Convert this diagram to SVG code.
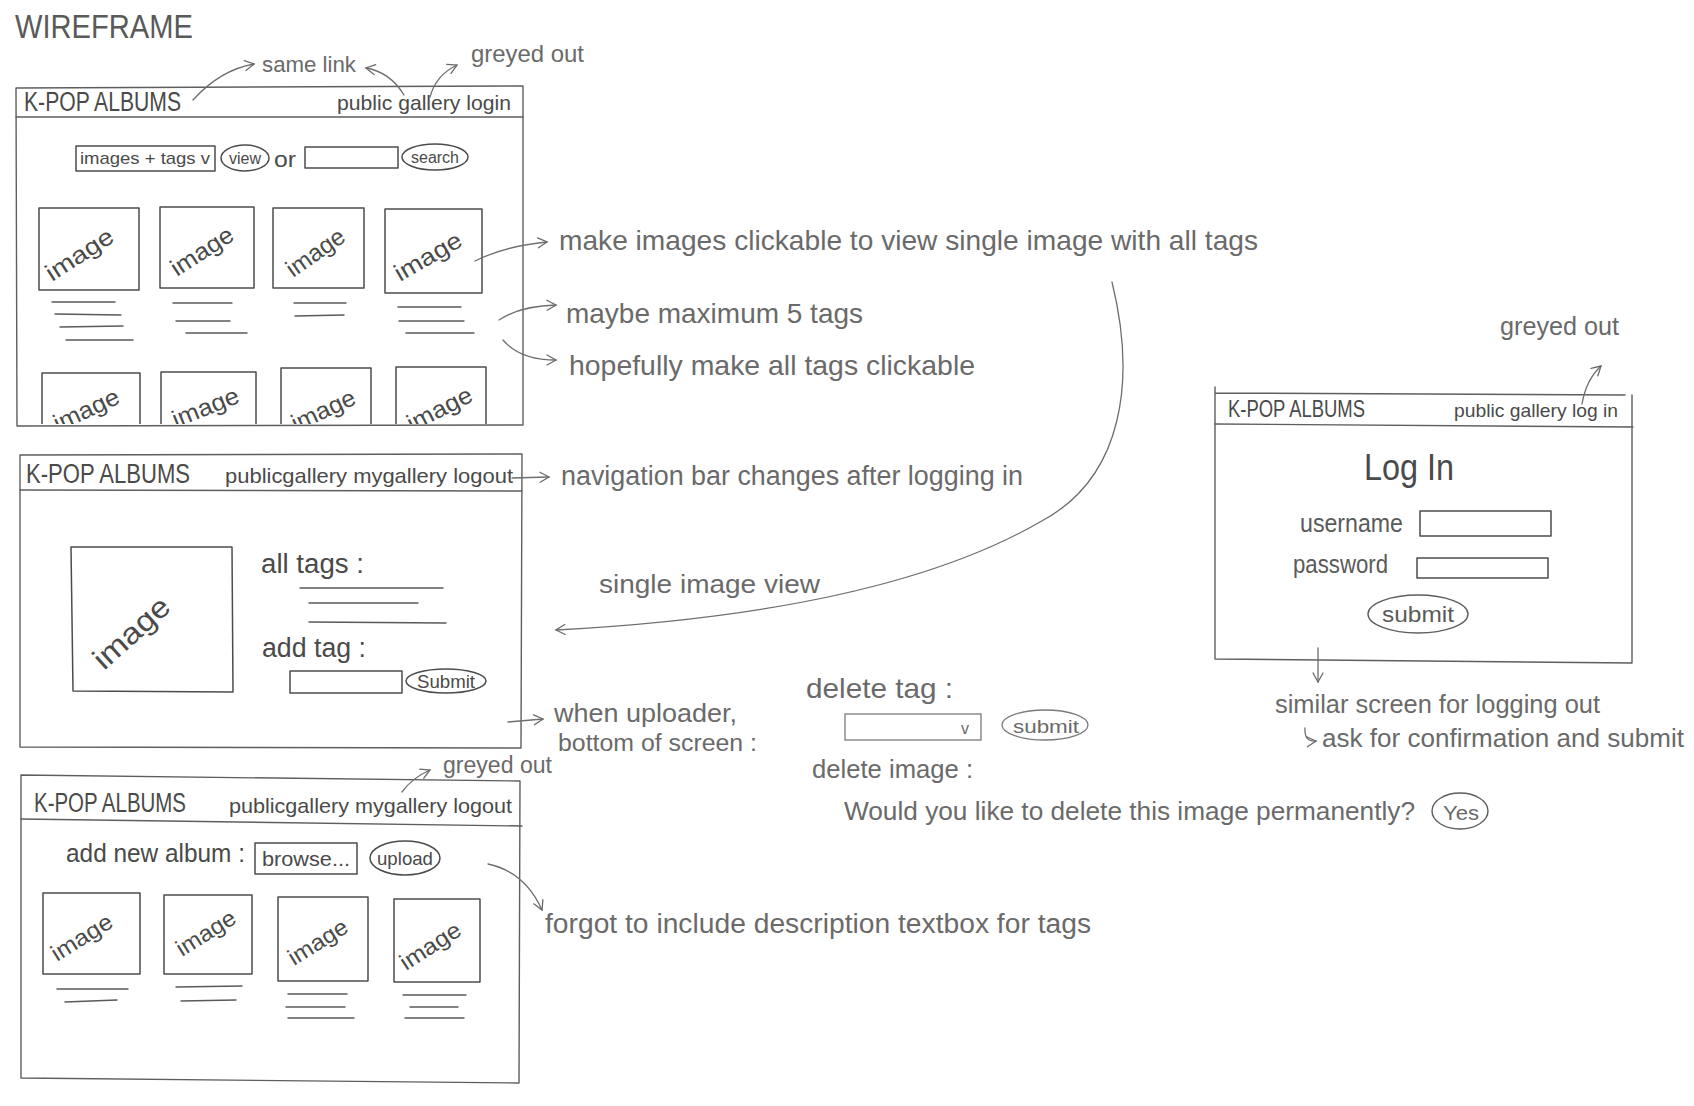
<svg xmlns="http://www.w3.org/2000/svg" width="1694" height="1106" viewBox="0 0 1694 1106">
<defs>
<style>
.bg{fill:#ffffff}
.fr{fill:none;stroke:#5e5e5e;stroke-width:1.4;stroke-linejoin:round;stroke-linecap:round}
.bx{fill:none;stroke:#4c4c4c;stroke-width:1.5;stroke-linejoin:round}
.ln{fill:none;stroke:#5a5a5a;stroke-width:1.4;stroke-linecap:round}
.lt{fill:none;stroke:#7a7a7a;stroke-width:1.3;stroke-linecap:round}
.cn{fill:none;stroke:#6e6e6e;stroke-width:1.3;stroke-linecap:round}
.t{font-family:"Liberation Sans Narrow","Liberation Sans",Arial,sans-serif;fill:#5a5a5a}
.d{fill:#4a4a4a}
.a{fill:#6a6a6a}
</style>
<marker id="ah" viewBox="0 0 12 12" refX="10" refY="6" markerWidth="12" markerHeight="12" markerUnits="userSpaceOnUse" orient="auto">
<path d="M1,1 L10,6 L1,11" fill="none" stroke="#6a6a6a" stroke-width="1.3" stroke-linecap="round"/>
</marker>
<clipPath id="c1"><rect x="0" y="360" width="530" height="64"/></clipPath>
</defs>
<rect class="bg" x="0" y="0" width="1694" height="1106"/>

<text class="t" x="15" y="38" font-size="34" textLength="178" lengthAdjust="spacingAndGlyphs">WIREFRAME</text>

<!-- Screen 1: public gallery -->
<g id="screen-public-gallery">
<path class="fr" d="M16,88 L523,86 L523,425 L17,426 Z"/>
<path class="fr" d="M16,117 L523,117"/>
<text class="t d" x="24" y="111" font-size="27" textLength="157" lengthAdjust="spacingAndGlyphs">K-POP ALBUMS</text>
<text class="t d" x="337" y="110" font-size="21" textLength="174" lengthAdjust="spacingAndGlyphs">public gallery login</text>
<rect class="bx" x="76" y="146" width="139" height="25"/>
<text class="t d" x="80" y="164" font-size="17" textLength="130" lengthAdjust="spacingAndGlyphs">images + tags v</text>
<ellipse class="bx" cx="245" cy="158" rx="24" ry="13"/>
<text class="t d" x="229" y="164" font-size="16" textLength="32" lengthAdjust="spacingAndGlyphs">view</text>
<text class="t d" x="274" y="167" font-size="22" textLength="22" lengthAdjust="spacingAndGlyphs">or</text>
<rect class="bx" x="305" y="147" width="93" height="21"/>
<ellipse class="bx" cx="435" cy="157" rx="33" ry="13"/>
<text class="t d" x="411" y="163" font-size="16" textLength="48" lengthAdjust="spacingAndGlyphs">search</text>
<rect class="bx" x="39" y="208" width="100" height="82"/>
<rect class="bx" x="160" y="207" width="94" height="81"/>
<rect class="bx" x="273" y="208" width="91" height="80"/>
<rect class="bx" x="385" y="209" width="97" height="84"/>
<text class="t d" font-size="24" transform="translate(52,282) rotate(-33)" textLength="76" lengthAdjust="spacingAndGlyphs">image</text>
<text class="t d" font-size="24" transform="translate(177,277) rotate(-33)" textLength="70" lengthAdjust="spacingAndGlyphs">image</text>
<text class="t d" font-size="24" transform="translate(293,278) rotate(-35)" textLength="66" lengthAdjust="spacingAndGlyphs">image</text>
<text class="t d" font-size="24" transform="translate(400,282) rotate(-30)" textLength="74" lengthAdjust="spacingAndGlyphs">image</text>
<path class="ln" d="M52,302 L115,302 M55,314 L121,315 M60,327 L123,326 M66,340 L133,340"/>
<path class="ln" d="M173,303 L232,303 M176,321 L230,321 M186,333 L247,333"/>
<path class="ln" d="M294,303 L346,303 M295,316 L344,315"/>
<path class="ln" d="M398,307 L461,307 M399,321 L464,321 M406,333 L474,333"/>
<path class="bx" d="M42,424 L42,373 L140,373 L140,424 M161,424 L161,372 L256,372 L256,424 M281,424 L281,368 L371,368 L371,424 M396,424 L396,367 L486,367 L486,424"/>
<g clip-path="url(#c1)">
<text class="t d" font-size="24" transform="translate(58,432) rotate(-25)" textLength="70" lengthAdjust="spacingAndGlyphs">image</text>
<text class="t d" font-size="24" transform="translate(176,428) rotate(-22)" textLength="70" lengthAdjust="spacingAndGlyphs">image</text>
<text class="t d" font-size="24" transform="translate(296,432) rotate(-25)" textLength="68" lengthAdjust="spacingAndGlyphs">image</text>
<text class="t d" font-size="24" transform="translate(412,432) rotate(-27)" textLength="70" lengthAdjust="spacingAndGlyphs">image</text>
</g>
</g>

<!-- Screen 2: single image view -->
<g id="screen-single-image">
<path class="fr" d="M20,455 L522,454 L521,748 L20,747 Z"/>
<path class="fr" d="M20,490 L522,491"/>
<text class="t d" x="26" y="483" font-size="27" textLength="164" lengthAdjust="spacingAndGlyphs">K-POP ALBUMS</text>
<text class="t d" x="225" y="483" font-size="21" textLength="288" lengthAdjust="spacingAndGlyphs">publicgallery mygallery logout</text>
<path class="bx" d="M71,547 L232,547 L233,692 L73,691 Z"/>
<text class="t d" font-size="30" transform="translate(104,671) rotate(-42)" textLength="92" lengthAdjust="spacingAndGlyphs">image</text>
<text class="t d" x="261" y="573" font-size="27" textLength="103" lengthAdjust="spacingAndGlyphs">all tags :</text>
<path class="ln" d="M300,588 L443,588 M309,603 L418,603 M309,622 L446,623"/>
<text class="t d" x="262" y="657" font-size="27" textLength="104" lengthAdjust="spacingAndGlyphs">add tag :</text>
<rect class="bx" x="290" y="671" width="112" height="22"/>
<ellipse class="bx" cx="446" cy="681" rx="40" ry="12"/>
<text class="t d" x="417" y="688" font-size="18" textLength="58" lengthAdjust="spacingAndGlyphs">Submit</text>
</g>

<!-- Screen 3: my gallery -->
<g id="screen-my-gallery">
<path class="fr" d="M21,775 L520,781 L519,1083 L21,1078 Z"/>
<path class="fr" d="M21,819 L522,826"/>
<text class="t d" x="34" y="812" font-size="27" textLength="152" lengthAdjust="spacingAndGlyphs">K-POP ALBUMS</text>
<text class="t d" x="229" y="813" font-size="21" textLength="283" lengthAdjust="spacingAndGlyphs">publicgallery mygallery logout</text>
<text class="t d" x="66" y="862" font-size="26" textLength="179" lengthAdjust="spacingAndGlyphs">add new album :</text>
<rect class="bx" x="255" y="843" width="102" height="31"/>
<text class="t d" x="262" y="866" font-size="20" textLength="88" lengthAdjust="spacingAndGlyphs">browse...</text>
<ellipse class="bx" cx="405" cy="858" rx="35" ry="17"/>
<text class="t d" x="377" y="865" font-size="19" textLength="56" lengthAdjust="spacingAndGlyphs">upload</text>
<rect class="bx" x="43" y="893" width="97" height="81"/>
<rect class="bx" x="164" y="895" width="88" height="79"/>
<rect class="bx" x="278" y="897" width="90" height="84"/>
<rect class="bx" x="394" y="899" width="86" height="83"/>
<text class="t d" font-size="23" transform="translate(57,962) rotate(-32)" textLength="68" lengthAdjust="spacingAndGlyphs">image</text>
<text class="t d" font-size="23" transform="translate(182,957) rotate(-32)" textLength="66" lengthAdjust="spacingAndGlyphs">image</text>
<text class="t d" font-size="23" transform="translate(294,966) rotate(-32)" textLength="66" lengthAdjust="spacingAndGlyphs">image</text>
<text class="t d" font-size="23" transform="translate(406,971) rotate(-33)" textLength="68" lengthAdjust="spacingAndGlyphs">image</text>
<path class="ln" d="M57,989 L128,989 M65,1002 L117,1000"/>
<path class="ln" d="M176,987 L242,986 M181,1001 L236,1000"/>
<path class="ln" d="M288,994 L347,994 M286,1007 L345,1007 M288,1018 L354,1018"/>
<path class="ln" d="M403,995 L466,995 M410,1007 L458,1007 M405,1018 L464,1018"/>
</g>

<!-- Screen 4: log in -->
<g id="screen-login">
<path class="fr" d="M1215,387 L1215,659 L1632,663 L1632,395 M1215,393 L1625,395"/>
<path class="fr" d="M1215,424 L1633,427"/>
<text class="t d" x="1228" y="417" font-size="24" textLength="137" lengthAdjust="spacingAndGlyphs">K-POP ALBUMS</text>
<text class="t d" x="1454" y="417" font-size="19" textLength="164" lengthAdjust="spacingAndGlyphs">public gallery log in</text>
<text class="t d" x="1364" y="480" font-size="36" textLength="90" lengthAdjust="spacingAndGlyphs">Log In</text>
<text class="t" x="1300" y="532" font-size="25" textLength="103" lengthAdjust="spacingAndGlyphs">username</text>
<rect class="bx" x="1420" y="511" width="131" height="25"/>
<text class="t" x="1293" y="573" font-size="25" textLength="95" lengthAdjust="spacingAndGlyphs">password</text>
<rect class="bx" x="1417" y="558" width="131" height="20"/>
<ellipse class="fr" cx="1418" cy="614" rx="50" ry="19"/>
<text class="t" x="1382" y="622" font-size="22" textLength="72" lengthAdjust="spacingAndGlyphs">submit</text>
</g>

<!-- Annotations -->
<g id="note-same-link"><text class="t a" x="262" y="72" font-size="22" textLength="94" lengthAdjust="spacingAndGlyphs">same link</text></g>
<g id="note-greyed-out-1"><text class="t a" x="471" y="62" font-size="24" textLength="113" lengthAdjust="spacingAndGlyphs">greyed out</text></g>
<g id="note-clickable-images"><text class="t a" x="559" y="250" font-size="28" textLength="699" lengthAdjust="spacingAndGlyphs">make images clickable to view single image with all tags</text></g>
<g id="note-max-tags"><text class="t a" x="566" y="323" font-size="28" textLength="297" lengthAdjust="spacingAndGlyphs">maybe maximum 5 tags</text></g>
<g id="note-clickable-tags"><text class="t a" x="569" y="375" font-size="28" textLength="406" lengthAdjust="spacingAndGlyphs">hopefully make all tags clickable</text></g>
<g id="note-nav-bar"><text class="t a" x="561" y="485" font-size="27" textLength="462" lengthAdjust="spacingAndGlyphs">navigation bar changes after logging in</text></g>
<g id="note-single-image-view"><text class="t a" x="599" y="593" font-size="26" textLength="221" lengthAdjust="spacingAndGlyphs">single image view</text></g>
<g id="note-uploader">
<text class="t a" x="554" y="722" font-size="25" textLength="183" lengthAdjust="spacingAndGlyphs">when uploader,</text>
<text class="t a" x="558" y="751" font-size="23" textLength="199" lengthAdjust="spacingAndGlyphs">bottom of screen :</text>
</g>
<g id="uploader-controls">
<text class="t a" x="806" y="698" font-size="28" textLength="147" lengthAdjust="spacingAndGlyphs">delete tag :</text>
<rect class="lt" x="845" y="714" width="136" height="26"/>
<text class="t a" x="961" y="734" font-size="16">v</text>
<ellipse class="lt" cx="1045" cy="725" rx="43" ry="15"/>
<text class="t a" x="1013" y="733" font-size="19" textLength="66" lengthAdjust="spacingAndGlyphs">submit</text>
<text class="t a" x="812" y="778" font-size="26" textLength="161" lengthAdjust="spacingAndGlyphs">delete image :</text>
<text class="t a" x="844" y="820" font-size="26" textLength="571" lengthAdjust="spacingAndGlyphs">Would you like to delete this image permanently?</text>
<ellipse class="fr" cx="1460" cy="811" rx="28" ry="18"/>
<text class="t a" x="1443" y="820" font-size="21" textLength="36" lengthAdjust="spacingAndGlyphs">Yes</text>
</g>
<g id="note-greyed-out-3"><text class="t a" x="443" y="773" font-size="23" textLength="109" lengthAdjust="spacingAndGlyphs">greyed out</text></g>
<g id="note-forgot"><text class="t a" x="545" y="933" font-size="27" textLength="546" lengthAdjust="spacingAndGlyphs">forgot to include description textbox for tags</text></g>
<g id="note-greyed-out-login"><text class="t a" x="1500" y="335" font-size="26" textLength="119" lengthAdjust="spacingAndGlyphs">greyed out</text></g>
<g id="note-logout">
<text class="t a" x="1275" y="713" font-size="25" textLength="325" lengthAdjust="spacingAndGlyphs">similar screen for logging out</text>
<path class="cn" d="M1305,728 Q1304,742 1316,741" marker-end="url(#ah)"/>
<text class="t a" x="1322" y="747" font-size="25" textLength="362" lengthAdjust="spacingAndGlyphs">ask for confirmation and submit</text>
</g>

<!-- Connectors -->
<g id="connectors">
<path class="cn" d="M193,100 Q220,70 254,64" marker-end="url(#ah)"/>
<path class="cn" d="M404,95 Q390,72 366,68" marker-end="url(#ah)"/>
<path class="cn" d="M430,97 Q436,75 457,65" marker-end="url(#ah)"/>
<path class="cn" d="M475,261 Q505,246 547,242" marker-end="url(#ah)"/>
<path class="cn" d="M499,320 Q520,306 556,305" marker-end="url(#ah)"/>
<path class="cn" d="M503,340 Q520,360 556,360" marker-end="url(#ah)"/>
<path class="cn" d="M512,478 L549,477" marker-end="url(#ah)"/>
<path class="cn" d="M1112,282 C1136,380 1124,478 1040,522 C960,568 820,616 556,630" marker-end="url(#ah)"/>
<path class="cn" d="M508,722 L543,719" marker-end="url(#ah)"/>
<path class="cn" d="M402,792 Q412,778 430,770" marker-end="url(#ah)"/>
<path class="cn" d="M488,864 Q525,872 542,910" marker-end="url(#ah)"/>
<path class="cn" d="M1582,404 Q1586,380 1601,366" marker-end="url(#ah)"/>
<path class="cn" d="M1318,648 L1318,682" marker-end="url(#ah)"/>
</g>
</svg>
